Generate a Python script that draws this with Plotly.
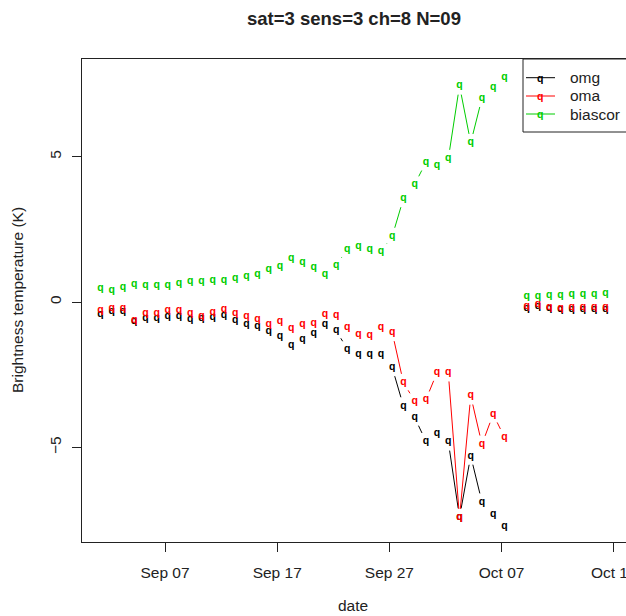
import math
import pandas as pd
import plotly.graph_objects as go

# ---------------- data ----------------
dates = pd.date_range("2015-09-01 06:00", periods=46, freq="D")

omg = [-0.41, -0.33, -0.32, -0.66, -0.55, -0.55, -0.50, -0.50, -0.58, -0.55,
       -0.52, -0.47, -0.64, -0.78, -0.83, -1.01, -1.19, -1.48, -1.27, -1.06,
       -0.78, -0.98, -1.61, -1.81, -1.79, -1.79, -2.25, -3.57, -3.97, -4.78,
       -4.51, -4.80, -7.40, -5.29, -6.88, -7.30, -7.71, None,
       -0.20, -0.15, -0.22, -0.25, -0.24, -0.24, -0.24, -0.26]
oma = [-0.29, -0.20, -0.20, -0.64, -0.39, -0.39, -0.29, -0.29, -0.39, -0.50,
       -0.35, -0.26, -0.39, -0.49, -0.58, -0.75, -0.66, -0.89, -0.78, -0.72,
       -0.41, -0.47, -0.87, -1.10, -1.16, -0.87, -1.04, -2.77, -3.40, -3.36,
       -2.42, -2.42, -7.42, -3.22, -4.89, -3.86, -4.64, None,
       -0.14, -0.09, -0.18, -0.21, -0.18, -0.18, -0.18, -0.18]
biascor = [0.46, 0.42, 0.51, 0.60, 0.59, 0.59, 0.57, 0.63, 0.72, 0.72,
           0.76, 0.76, 0.83, 0.88, 0.94, 1.13, 1.22, 1.52, 1.35, 1.20,
           0.97, 1.28, 1.80, 1.91, 1.83, 1.75, 2.26, 3.56, 4.05, 4.80,
           4.70, 4.93, 7.44, 5.48, 7.01, 7.39, 7.72, None,
           0.19, 0.19, 0.22, 0.22, 0.25, 0.26, 0.26, 0.30]

series_names = ["omg", "oma", "biascor"]
series_values = [omg, oma, biascor]
colors = ["#000000", "#FF0000", "#00CD00"]

x_tick_dates = ["2015-09-07", "2015-09-17", "2015-09-27", "2015-10-07", "2015-10-17"]
y_tick_vals = [-5, 0, 5]

title_text = "sat=3 sens=3 ch=8 N=09"
x_title = "date"
y_title = "Brightness temperature (K)"

# ---------------- layout geometry ----------------
W, H = 626, 616
ML, MR, MT, MB = 82, 0, 59, 74
X_RANGE = (pd.Timestamp("2015-08-30 14:24"), pd.Timestamp("2015-10-18 02:10"))
Y_RANGE = (-8.25, 8.36)
GAP = 9  # pixel gap around points (R type="b")
FONT = "Liberation Sans, Arial, sans-serif"
TXT = "#222"

plot_w = W - ML - MR
plot_h = H - MT - MB
px_per_day = plot_w / ((X_RANGE[1] - X_RANGE[0]) / pd.Timedelta(days=1))
px_per_unit = plot_h / (Y_RANGE[1] - Y_RANGE[0])


def gapped_segments(xs, ys):
    sx, sy = [], []
    for k in range(len(xs) - 1):
        y0, y1 = ys[k], ys[k + 1]
        if y0 is None or y1 is None:
            continue
        x0, x1 = xs[k], xs[k + 1]
        dx = (x1 - x0) / pd.Timedelta(days=1) * px_per_day
        dy = (y1 - y0) * px_per_unit
        L = math.hypot(dx, dy)
        if L <= 2 * GAP:
            continue
        f = GAP / L
        sx += [(x0 + (x1 - x0) * f).isoformat(), (x1 - (x1 - x0) * f).isoformat(), None]
        sy += [y0 + (y1 - y0) * f, y1 - (y1 - y0) * f, None]
    return sx, sy


fig = go.Figure()
date_strs = [d.isoformat() for d in dates]
for name, vals, col in zip(series_names, series_values, colors):
    sx, sy = gapped_segments(list(dates), vals)
    fig.add_trace(go.Scatter(x=sx, y=sy, mode="lines", line=dict(color=col, width=1),
                             hoverinfo="skip", showlegend=False, name=name))
    fig.add_trace(go.Scatter(x=date_strs, y=vals, mode="text", text=["q"] * len(vals),
                             textposition="middle center",
                             textfont=dict(color=col, size=10.5, family=FONT, weight="bold"),
                             showlegend=False, name=name))

fig.update_layout(
    width=W, height=H,
    margin=dict(l=ML, r=MR, t=MT, b=MB, pad=0, autoexpand=False),
    paper_bgcolor="white", plot_bgcolor="white",
    showlegend=False,
    font=dict(family=FONT, size=15.5, color=TXT),
)
fig.update_xaxes(
    type="date", range=[X_RANGE[0].isoformat(), X_RANGE[1].isoformat()],
    tickvals=x_tick_dates, tickformat="%b %d",
    ticks="outside", ticklen=9, tickcolor=TXT, tickwidth=1,
    ticklabelstandoff=7, ticklabeloverflow="allow", automargin=False,
    showline=True, linecolor=TXT, linewidth=1, mirror=True,
    showgrid=False, zeroline=False,
    tickfont=dict(size=15.5, color=TXT, family=FONT),
)
fig.update_yaxes(
    range=list(Y_RANGE), tickvals=y_tick_vals, tickangle=-90,
    ticks="outside", ticklen=9, tickcolor=TXT, tickwidth=1,
    ticklabelstandoff=5, automargin=False,
    showline=True, linecolor=TXT, linewidth=1, mirror=False,
    showgrid=False, zeroline=False,
    tickfont=dict(size=15.5, color=TXT, family=FONT),
)


def px_to_paper_x(px):
    return (px - ML) / plot_w


def px_to_paper_y(py):
    return (H - MB - py) / plot_h


# titles
fig.add_annotation(text="<b>" + title_text + "</b>", xref="paper", yref="paper",
                   x=px_to_paper_x(354), y=px_to_paper_y(18), xanchor="center", yanchor="middle",
                   showarrow=False, font=dict(size=18.5, color=TXT, family=FONT))
fig.add_annotation(text=x_title, xref="paper", yref="paper",
                   x=px_to_paper_x(353), y=px_to_paper_y(605), xanchor="center", yanchor="middle",
                   showarrow=False, font=dict(size=15.5, color=TXT, family=FONT))
fig.add_annotation(text=y_title, xref="paper", yref="paper", textangle=-90,
                   x=px_to_paper_x(17), y=px_to_paper_y(300), xanchor="center", yanchor="middle",
                   showarrow=False, font=dict(size=15.5, color=TXT, family=FONT))

# legend (R style box at top-right)
fig.add_shape(type="rect", xref="paper", yref="paper",
              x0=px_to_paper_x(523), x1=px_to_paper_x(660),
              y0=px_to_paper_y(132), y1=px_to_paper_y(59),
              line=dict(color=TXT, width=1), fillcolor="white", layer="above")
row_y = [77.7, 96, 114]
for name, col, ry in zip(series_names, colors, row_y):
    fig.add_shape(type="line", xref="paper", yref="paper",
                  x0=px_to_paper_x(526), x1=px_to_paper_x(555),
                  y0=px_to_paper_y(ry), y1=px_to_paper_y(ry),
                  line=dict(color=col, width=1), layer="above")
    fig.add_annotation(text="<b>q</b>", xref="paper", yref="paper",
                       x=px_to_paper_x(539.5), y=px_to_paper_y(ry), xanchor="center", yanchor="middle",
                       showarrow=False, font=dict(size=10.5, color=col, family=FONT))
    fig.add_annotation(text=name, xref="paper", yref="paper",
                       x=px_to_paper_x(568), y=px_to_paper_y(ry), xanchor="left", yanchor="middle",
                       showarrow=False, font=dict(size=15.5, color=TXT, family=FONT))

fig.write_html("out.html")
